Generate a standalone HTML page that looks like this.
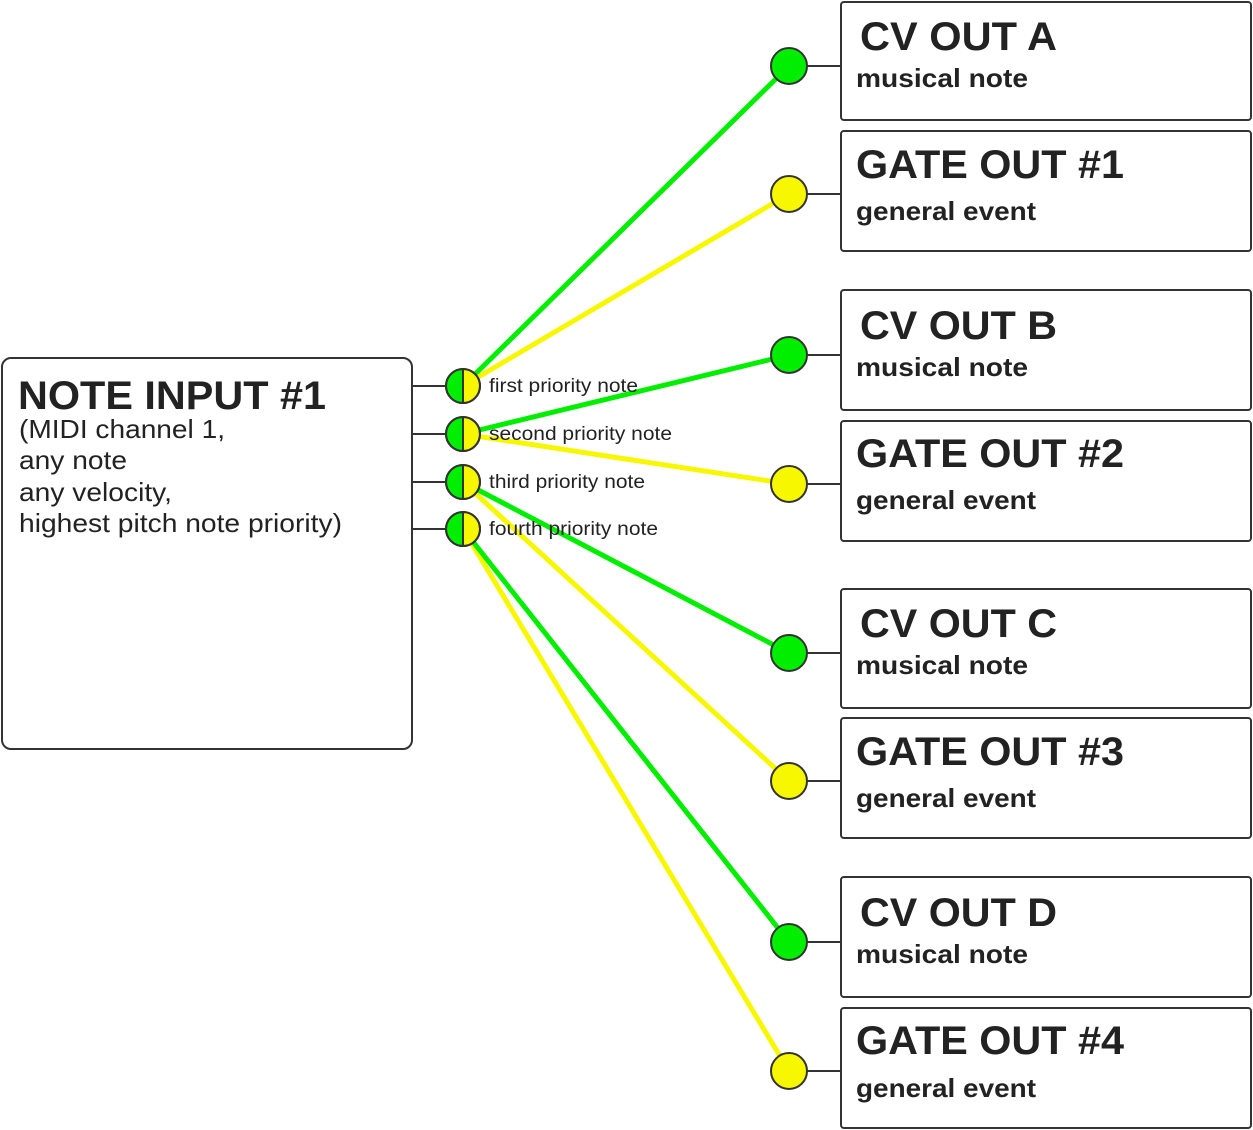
<!DOCTYPE html>
<html><head><meta charset="utf-8"><style>
html,body{margin:0;padding:0;background:#fff;width:1253px;height:1130px;overflow:hidden}
svg{display:block}
text{font-family:"Liberation Sans",sans-serif;fill:#222}
.t{font-size:40px;font-weight:bold}
.s{font-size:26px;font-weight:bold}
.n{font-size:26px}
.l{font-size:19px}
</style></head><body>
<svg width="1253" height="1130" viewBox="0 0 1253 1130">
<g stroke-width="5">
<line x1="463" y1="386" x2="789" y2="66" stroke="#00ee00"/>
<line x1="463" y1="386" x2="789" y2="194" stroke="#f7f700"/>
<line x1="463" y1="434" x2="789" y2="355" stroke="#00ee00"/>
<line x1="463" y1="434" x2="789" y2="484" stroke="#f7f700"/>
<line x1="463" y1="482" x2="789" y2="781" stroke="#f7f700"/>
<line x1="463" y1="482" x2="789" y2="653" stroke="#00ee00"/>
<line x1="463" y1="529" x2="789" y2="1071" stroke="#f7f700"/>
<line x1="463" y1="529" x2="789" y2="942" stroke="#00ee00"/>
</g>
<rect x="2" y="358" width="410" height="391" rx="9" fill="#fff" stroke="#333" stroke-width="2"/>
<text x="18" y="409" class="t" textLength="308" lengthAdjust="spacingAndGlyphs">NOTE INPUT #1</text>
<text x="19" y="438" class="n" textLength="206" lengthAdjust="spacingAndGlyphs">(MIDI channel 1,</text>
<text x="19" y="469" class="n" textLength="108" lengthAdjust="spacingAndGlyphs">any note</text>
<text x="19" y="501" class="n" textLength="153" lengthAdjust="spacingAndGlyphs">any velocity,</text>
<text x="19" y="532" class="n" textLength="323" lengthAdjust="spacingAndGlyphs">highest pitch note priority)</text>
<g stroke="#333" stroke-width="2">
<g><line x1="412" y1="386" x2="446" y2="386"/><path d="M463 369 A17 17 0 0 0 463 403Z" fill="#00ee00"/><path d="M463 369 A17 17 0 0 1 463 403Z" fill="#f7f700"/><circle cx="463" cy="386" r="17" fill="none"/></g>
<g><line x1="412" y1="434" x2="446" y2="434"/><path d="M463 417 A17 17 0 0 0 463 451Z" fill="#00ee00"/><path d="M463 417 A17 17 0 0 1 463 451Z" fill="#f7f700"/><circle cx="463" cy="434" r="17" fill="none"/></g>
<g><line x1="412" y1="482" x2="446" y2="482"/><path d="M463 465 A17 17 0 0 0 463 499Z" fill="#00ee00"/><path d="M463 465 A17 17 0 0 1 463 499Z" fill="#f7f700"/><circle cx="463" cy="482" r="17" fill="none"/></g>
<g><line x1="412" y1="529" x2="446" y2="529"/><path d="M463 512 A17 17 0 0 0 463 546Z" fill="#00ee00"/><path d="M463 512 A17 17 0 0 1 463 546Z" fill="#f7f700"/><circle cx="463" cy="529" r="17" fill="none"/></g>
</g>
<text x="489" y="392" class="l" textLength="149" lengthAdjust="spacingAndGlyphs">first priority note</text>
<text x="489" y="440" class="l" textLength="183" lengthAdjust="spacingAndGlyphs">second priority note</text>
<text x="489" y="488" class="l" textLength="156" lengthAdjust="spacingAndGlyphs">third priority note</text>
<text x="489" y="535" class="l" textLength="169" lengthAdjust="spacingAndGlyphs">fourth priority note</text>

<g>
<line x1="807" y1="66" x2="841" y2="66" stroke="#333" stroke-width="2"/>
<circle cx="789" cy="66" r="18" fill="#00ee00" stroke="#333" stroke-width="2"/>
<rect x="841" y="2" width="410" height="118" rx="3" fill="#fff" stroke="#333" stroke-width="2"/>
<text x="860" y="50" class="t" textLength="197" lengthAdjust="spacingAndGlyphs">CV OUT A</text>
<text x="856" y="87" class="s" textLength="172" lengthAdjust="spacingAndGlyphs">musical note</text>
</g>
<g>
<line x1="807" y1="194" x2="841" y2="194" stroke="#333" stroke-width="2"/>
<circle cx="789" cy="194" r="18" fill="#f7f700" stroke="#333" stroke-width="2"/>
<rect x="841" y="131" width="410" height="120" rx="3" fill="#fff" stroke="#333" stroke-width="2"/>
<text x="856" y="178" class="t" textLength="268" lengthAdjust="spacingAndGlyphs">GATE OUT #1</text>
<text x="856" y="220" class="s" textLength="180" lengthAdjust="spacingAndGlyphs">general event</text>
</g>
<g>
<line x1="807" y1="355" x2="841" y2="355" stroke="#333" stroke-width="2"/>
<circle cx="789" cy="355" r="18" fill="#00ee00" stroke="#333" stroke-width="2"/>
<rect x="841" y="290" width="410" height="120" rx="3" fill="#fff" stroke="#333" stroke-width="2"/>
<text x="860" y="339" class="t" textLength="197" lengthAdjust="spacingAndGlyphs">CV OUT B</text>
<text x="856" y="376" class="s" textLength="172" lengthAdjust="spacingAndGlyphs">musical note</text>
</g>
<g>
<line x1="807" y1="484" x2="841" y2="484" stroke="#333" stroke-width="2"/>
<circle cx="789" cy="484" r="18" fill="#f7f700" stroke="#333" stroke-width="2"/>
<rect x="841" y="421" width="410" height="120" rx="3" fill="#fff" stroke="#333" stroke-width="2"/>
<text x="856" y="467" class="t" textLength="268" lengthAdjust="spacingAndGlyphs">GATE OUT #2</text>
<text x="856" y="509" class="s" textLength="180" lengthAdjust="spacingAndGlyphs">general event</text>
</g>
<g>
<line x1="807" y1="653" x2="841" y2="653" stroke="#333" stroke-width="2"/>
<circle cx="789" cy="653" r="18" fill="#00ee00" stroke="#333" stroke-width="2"/>
<rect x="841" y="589" width="410" height="119" rx="3" fill="#fff" stroke="#333" stroke-width="2"/>
<text x="860" y="637" class="t" textLength="197" lengthAdjust="spacingAndGlyphs">CV OUT C</text>
<text x="856" y="674" class="s" textLength="172" lengthAdjust="spacingAndGlyphs">musical note</text>
</g>
<g>
<line x1="807" y1="781" x2="841" y2="781" stroke="#333" stroke-width="2"/>
<circle cx="789" cy="781" r="18" fill="#f7f700" stroke="#333" stroke-width="2"/>
<rect x="841" y="718" width="410" height="120" rx="3" fill="#fff" stroke="#333" stroke-width="2"/>
<text x="856" y="765" class="t" textLength="268" lengthAdjust="spacingAndGlyphs">GATE OUT #3</text>
<text x="856" y="807" class="s" textLength="180" lengthAdjust="spacingAndGlyphs">general event</text>
</g>
<g>
<line x1="807" y1="942" x2="841" y2="942" stroke="#333" stroke-width="2"/>
<circle cx="789" cy="942" r="18" fill="#00ee00" stroke="#333" stroke-width="2"/>
<rect x="841" y="877" width="410" height="120" rx="3" fill="#fff" stroke="#333" stroke-width="2"/>
<text x="860" y="926" class="t" textLength="197" lengthAdjust="spacingAndGlyphs">CV OUT D</text>
<text x="856" y="963" class="s" textLength="172" lengthAdjust="spacingAndGlyphs">musical note</text>
</g>
<g>
<line x1="807" y1="1071" x2="841" y2="1071" stroke="#333" stroke-width="2"/>
<circle cx="789" cy="1071" r="18" fill="#f7f700" stroke="#333" stroke-width="2"/>
<rect x="841" y="1008" width="410" height="120" rx="3" fill="#fff" stroke="#333" stroke-width="2"/>
<text x="856" y="1054" class="t" textLength="268" lengthAdjust="spacingAndGlyphs">GATE OUT #4</text>
<text x="856" y="1097" class="s" textLength="180" lengthAdjust="spacingAndGlyphs">general event</text>
</g>
</svg>
</body></html>
